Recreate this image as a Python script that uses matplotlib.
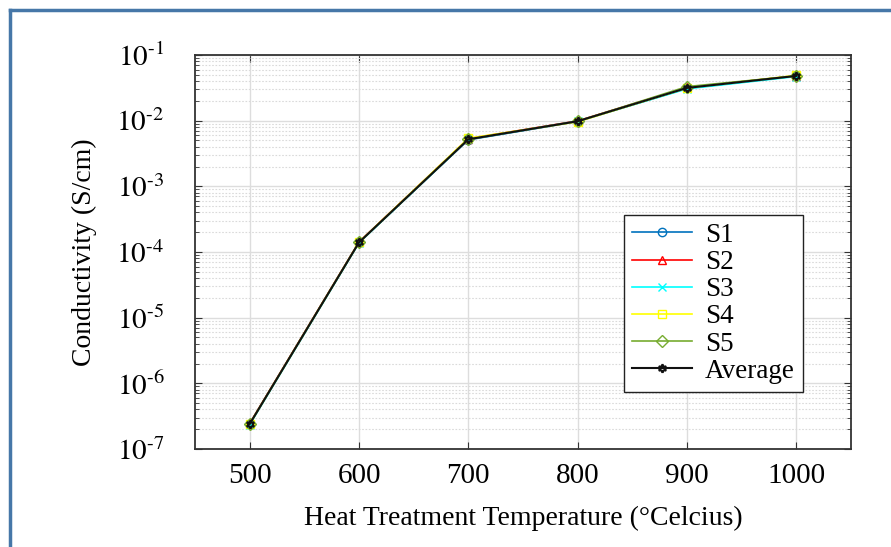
import matplotlib.pyplot as plt
import numpy as np
from matplotlib.lines import Line2D
from matplotlib.ticker import FuncFormatter, LogLocator, NullFormatter

plt.rcParams["font.family"] = ["Liberation Serif", "DejaVu Serif"]
plt.rcParams["mathtext.fontset"] = "stix"

temps = [500, 600, 700, 800, 900, 1000]
s1 = [2.40e-7, 1.40e-4, 5.1e-3, 9.7e-3, 3.10e-2, 4.8e-2]
s2 = [2.45e-7, 1.42e-4, 5.3e-3, 9.9e-3, 3.20e-2, 4.8e-2]
s3 = [2.35e-7, 1.38e-4, 5.2e-3, 9.8e-3, 3.05e-2, 4.7e-2]
s4 = [2.40e-7, 1.41e-4, 5.4e-3, 9.6e-3, 3.15e-2, 4.9e-2]
s5 = [2.42e-7, 1.40e-4, 5.2e-3, 9.8e-3, 3.30e-2, 4.8e-2]
avg = [2.40e-7, 1.40e-4, 5.2e-3, 9.8e-3, 3.15e-2, 4.8e-2]

series = [
    ("S1", s1, "#0072BD", "o"),
    ("S2", s2, "#FF0000", "^"),
    ("S3", s3, "#00FFFF", "x"),
    ("S4", s4, "#FFFF00", "s"),
    ("S5", s5, "#77AC30", "D"),
]


def exp_label(v, pos):
    e = int(round(np.log10(v)))
    return r"$10^{\text{-}%d}$" % (-e) if e < 0 else r"$10^{%d}$" % e


fig = plt.figure(figsize=(8.91, 5.47), dpi=100)
ax = fig.add_axes([0.2189, 0.1792, 0.7362, 0.7203])

for name, vals, color, marker in series:
    ax.plot(temps, vals, color=color, marker=marker, markersize=6,
            markerfacecolor="none", linewidth=1.2, label=name)
ax.plot(temps, avg, color="#111111", marker=(6, 1, 0), markersize=6,
        markerfacecolor="none", markeredgewidth=1.5, linewidth=1.5, label="Average")

ax.set_yscale("log")
ax.set_xlim(450, 1050)
ax.set_ylim(1e-7, 1e-1)
ax.set_xticks(temps)
ax.yaxis.set_major_locator(LogLocator(base=10, numticks=10))
ax.yaxis.set_major_formatter(FuncFormatter(exp_label))
ax.yaxis.set_minor_locator(LogLocator(base=10, subs=range(2, 10), numticks=20))
ax.yaxis.set_minor_formatter(NullFormatter())

ax.grid(True, which="major", color="#dddddd", linewidth=1.0)
ax.grid(True, which="minor", axis="y", color="#dadada", linestyle=(0, (1.5, 1.5)), linewidth=0.8)
ax.set_axisbelow(True)

ax.tick_params(which="both", direction="in", top=True, right=True, colors="#333333")
ax.tick_params(which="major", length=5, labelsize=21, labelcolor="black")
ax.tick_params(axis="x", pad=10)
ax.tick_params(axis="y", pad=22)
ax.tick_params(which="minor", length=3)
for sp in ax.spines.values():
    sp.set_color("#333333")
    sp.set_linewidth(1.3)

ax.set_xlabel("Heat Treatment Temperature (\u00b0Celcius)", fontsize=20, labelpad=12)
ax.set_ylabel("Conductivity (S/cm)", fontsize=20, labelpad=14)

leg = ax.legend(loc="lower right", bbox_to_anchor=(0.927, 0.145), borderaxespad=0,
                fontsize=19.5, fancybox=False, edgecolor="#222222", framealpha=1,
                handlelength=2.2, labelspacing=0.08, borderpad=0.3, handletextpad=0.5)
leg.get_frame().set_linewidth(1.0)

# blue frame around the figure (left and top edges)
fig.add_artist(Line2D([10 / 891, 10 / 891], [0, 1 - 10 / 547], transform=fig.transFigure,
                      color="#4677a8", linewidth=2.5))
fig.add_artist(Line2D([10 / 891, 1], [1 - 10 / 547, 1 - 10 / 547], transform=fig.transFigure,
                      color="#4677a8", linewidth=2.5))

fig.savefig("out.png", dpi=100)
